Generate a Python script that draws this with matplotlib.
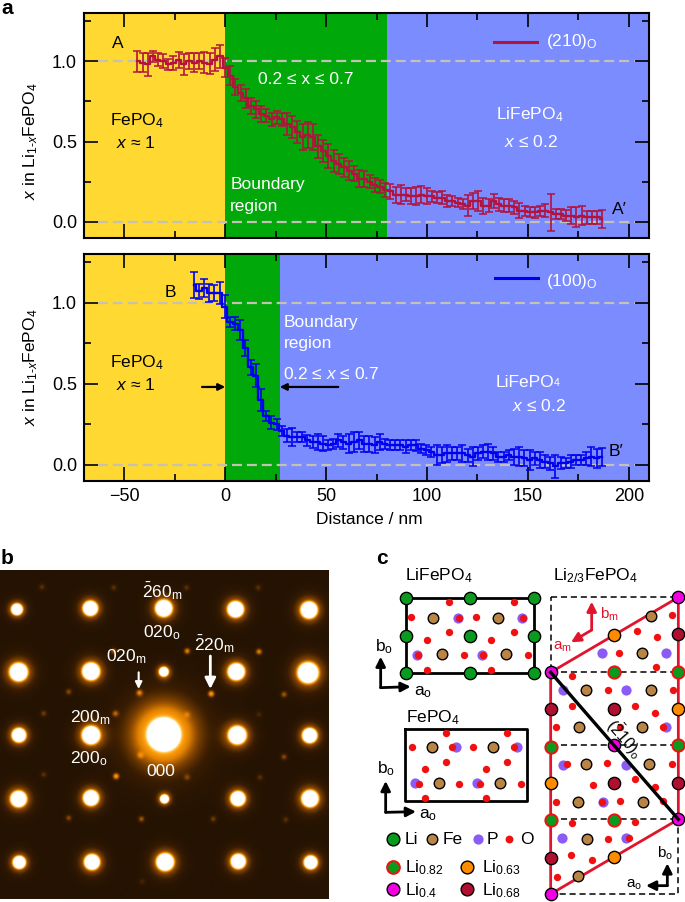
import numpy as np
import matplotlib
matplotlib.use("Agg")
import matplotlib.pyplot as plt
from matplotlib.colors import LinearSegmentedColormap

plt.rcParams["font.family"] = ["Liberation Sans", "DejaVu Sans"]
plt.rcParams["mathtext.fontset"] = "custom"
plt.rcParams["mathtext.rm"] = "Liberation Sans"
plt.rcParams["mathtext.it"] = "Liberation Sans:italic"
plt.rcParams["mathtext.bf"] = "Liberation Sans:bold"
plt.rcParams["mathtext.default"] = "rm"

W, H = 685, 902
FS = 12.5

# panel a, line scan A-A'
dist_a = [-43.6, -41.0, -38.5, -35.9, -33.4, -30.8, -28.2, -25.7, -23.1, -20.6,
          -18.0, -15.4, -12.9, -10.3, -7.8, -5.2, -2.6, -0.1, 2.5, 5.0,
          7.6, 10.2, 12.7, 15.3, 17.8, 20.4, 23.0, 25.5, 28.1, 30.6,
          33.2, 35.8, 38.3, 40.9, 43.4, 46.0, 48.6, 51.1, 53.7, 56.2,
          58.8, 61.4, 63.9, 66.5, 69.0, 71.6, 74.2, 76.7, 79.3, 81.8,
          84.4, 87.0, 89.5, 92.1, 94.6, 97.2, 99.8, 102.3, 104.9, 107.4,
          110.0, 112.6, 115.1, 117.7, 120.2, 122.8, 125.4, 127.9, 130.5, 133.0,
          135.6, 138.2, 140.7, 143.3, 145.8, 148.4, 151.0, 153.5, 156.1, 158.6,
          161.2, 163.8, 166.3, 168.9, 171.4, 174.0, 176.6, 179.1, 181.7, 184.2, 186.8]
x_a = [1.00, 0.99, 0.98, 1.03, 1.01, 1.00, 0.98, 0.99, 1.01, 0.98,
       1.00, 0.99, 1.00, 0.99, 0.985, 1.01, 1.03, 0.96, 0.91, 0.84,
       0.80, 0.77, 0.72, 0.70, 0.67, 0.66, 0.64, 0.65, 0.64, 0.61,
       0.59, 0.56, 0.53, 0.54, 0.53, 0.47, 0.44, 0.41, 0.38, 0.36,
       0.34, 0.32, 0.30, 0.27, 0.27, 0.25, 0.23, 0.22, 0.20, 0.19,
       0.17, 0.17, 0.17, 0.16, 0.16, 0.17, 0.16, 0.16, 0.15, 0.15,
       0.13, 0.13, 0.12, 0.11, 0.10, 0.13, 0.13, 0.10, 0.10, 0.13,
       0.11, 0.10, 0.10, 0.09, 0.07, 0.07, 0.06, 0.06, 0.07, 0.07,
       0.06, 0.05, 0.05, 0.04, 0.04, 0.03, 0.04, 0.03, 0.03, 0.03, 0.02]
err_a = [.065, .06, .07, .035, .04, .045, .035, .045, .05, .065,
         .05, .06, .05, .065, .065, .07, .07, .06, .06, .05,
         .05, .06, .05, .055, .05, .04, .04, .04, .04, .07,
         .07, .07, .08, .08, .08, .07, .07, .075, .07, .06,
         .06, .06, .045, .055, .05, .04, .045, .04, .045, .045,
         .05, .06, .04, .05, .055, .055, .05, .035, .035, .04,
         .04, .03, .03, .03, .065, .05, .06, .05, .04, .045,
         .04, .04, .04, .04, .045, .03, .03, .035, .03, .04,
         .115, .03, .03, .035, .05, .06, .06, .04, .04, .04, .055]

# panel a, line scan B-B'
dist_b = [-15.6, -13.0, -10.5, -7.9, -5.4, -2.8, -0.2, 2.3, 4.9, 7.4,
          10.0, 12.6, 15.1, 17.7, 20.2, 22.8, 25.4, 27.9, 30.5, 33.0,
          35.6, 38.2, 40.7, 43.3, 45.8, 48.4, 51.0, 53.5, 56.1, 58.6,
          61.2, 63.8, 66.3, 68.9, 71.4, 74.0, 76.6, 79.1, 81.7, 84.2,
          86.8, 89.4, 91.9, 94.5, 97.0, 99.6, 102.2, 104.7, 107.3, 109.8,
          112.4, 115.0, 117.5, 120.1, 122.6, 125.2, 127.8, 130.3, 132.9, 135.4,
          138.0, 140.6, 143.1, 145.7, 148.2, 150.8, 153.4, 155.9, 158.5, 161.0,
          163.6, 166.2, 168.7, 171.3, 173.8, 176.4, 179.0, 181.5, 184.1, 186.7]
x_b = [1.11, 1.07, 1.09, 1.06, 1.06, 1.06, 0.975, 0.88, 0.87, 0.83,
       0.72, 0.60, 0.55, 0.40, 0.30, 0.26, 0.25, 0.21, 0.18, 0.17,
       0.17, 0.17, 0.15, 0.14, 0.14, 0.13, 0.12, 0.13, 0.15, 0.14,
       0.13, 0.14, 0.15, 0.13, 0.13, 0.12, 0.14, 0.13, 0.12, 0.12,
       0.12, 0.11, 0.12, 0.12, 0.10, 0.09, 0.08, 0.06, 0.06, 0.07,
       0.07, 0.07, 0.07, 0.06, 0.05, 0.07, 0.08, 0.08, 0.07, 0.05,
       0.05, 0.06, 0.05, 0.05, 0.04, 0.03, 0.04, 0.03, 0.02, 0.01,
       -0.01, 0.01, 0.01, 0.02, 0.03, 0.03, 0.04, 0.05, 0.04, 0.05]
err_b = [.08, .045, .055, .055, .05, .07, .07, .03, .04, .06,
         .05, .045, .07, .07, .03, .04, .035, .03, .04, .055,
         .03, .03, .035, .035, .05, .045, .03, .03, .04, .04,
         .06, .06, .05, .05, .05, .05, .05, .03, .03, .03,
         .03, .04, .03, .035, .03, .03, .03, .06, .05, .05,
         .04, .04, .05, .04, .06, .04, .04, .05, .04, .03,
         .03, .03, .05, .06, .05, .06, .04, .05, .04, .04,
         .07, .035, .03, .04, .03, .03, .04, .06, .06, .055]

bound_a = 80
bound_b = 27

YELLOW = "#ffd832"
GREEN = "#00a80a"
BLUE = "#7b8cff"
GREY = "#c4c2b4"
CRIMSON = "#b3123c"
LINE_BLUE = "#0000f0"

# panel b, spots in crop pixels: x, y, size
strong_x = [50, 270, 490, 705, 925, 55, 272, 490, 707, 922, 56, 272, 490, 710, 927,
            55, 272, 492, 712, 928, 57, 275, 494, 713, 930]
strong_y = [195, 192, 192, 195, 197, 383, 381, 382, 382, 385, 572, 572, 570, 572, 573,
            763, 760, 763, 762, 762, 953, 952, 952, 950, 953]
strong_r = [17, 22, 25, 24, 25, 27, 26, 14, 25, 31, 21, 27, 47, 27, 22,
            24, 23, 13, 22, 25, 19, 23, 26, 22, 20]
weak_x = [560, 775, 417, 632, 850, 205, 345, 130, 347, 130, 420, 850, 205, 423, 638,
          855, 560, 778, 340, 125, 558, 773, 560, 775, 340, 425]
weak_y = [320, 322, 445, 448, 450, 442, 507, 507, 695, 690, 632, 637, 820, 823, 823,
          825, 698, 698, 130, 128, 130, 130, 510, 510, 320, 1010]
weak_a = [.5, .5, .45, .6, .35, .3, .35, .25, .6, .2, .25, .3, .3, .35, .25,
          .2, .2, .2, .2, .2, .2, .2, .15, .15, .35, .15]

# panel c, atoms in crop pixels
li_x = [107, 300, 492, 107, 300, 492, 107, 300, 492]
li_y = [160, 160, 160, 272, 272, 272, 385, 385, 385]
fe1_x = [190, 383, 215, 408]
fe1_y = [218, 218, 328, 328]
p1_x = [263, 456, 140, 336]
p1_y = [218, 218, 330, 330]
o1_x = [238, 431, 124, 318, 238, 431, 170, 363, 145, 282, 338, 475, 170, 363, 266, 458]
o1_y = [172, 172, 217, 217, 262, 262, 285, 285, 330, 330, 330, 330, 375, 375, 218, 218]
fe2_x = [187, 370, 206, 390]
fe2_y = [607, 607, 715, 715]
p2_x = [257, 440, 135, 322]
p2_y = [607, 607, 715, 715]
o2_x = [228, 411, 125, 246, 308, 432, 228, 411, 165, 349, 147, 268, 330, 452, 165, 349]
o2_y = [563, 563, 607, 607, 607, 607, 652, 652, 671, 671, 716, 716, 716, 716, 760, 760]
fe3_x = [842, 815, 648, 842, 627, 815, 648, 838, 625, 818, 650, 625]
fe3_y = [212, 325, 436, 436, 547, 547, 657, 657, 770, 770, 882, 993]
p3_x = [695, 888, 578, 768, 888, 578, 768, 698, 575, 768]
p3_y = [323, 323, 436, 436, 545, 660, 660, 770, 880, 880]
o3_x = [802, 905, 862, 748, 858, 605, 715, 908, 605, 795, 558, 855, 750, 880, 590,
        712, 905, 670, 795, 855, 558, 695, 750, 880, 605, 795, 715, 778, 602, 665, 562]
o3_y = [257, 210, 275, 325, 367, 392, 436, 436, 482, 483, 547, 503, 547, 547, 657,
        655, 657, 720, 703, 725, 770, 770, 768, 768, 835, 830, 882, 878, 930, 945, 995]
li04_x = [925, 542, 733, 925, 542]
li04_y = [157, 382, 600, 823, 1047]
li068_x = [925, 733, 542, 733, 925, 542]
li068_y = [268, 492, 492, 715, 715, 938]
li063_x = [733, 925, 542, 733]
li063_y = [270, 492, 715, 937]
li082_x = [733, 925, 542, 925, 542, 733]
li082_y = [382, 382, 605, 600, 825, 825]

C_LI = "#0a9a1e"
C_FE = "#b98544"
C_P = "#8a5cf5"
C_O = "#f01010"
C_LI04 = "#f000e0"
C_LI068 = "#b01030"
C_LI063 = "#ff8c00"
C_RED = "#e0152d"


def px_axes(fig, left, top, right, bottom):
    return fig.add_axes([left / W, 1 - bottom / H, (right - left) / W, (bottom - top) / H])


def profile(ax, dist, x, err, color, bound):
    ax.axvspan(-70, 0, color=YELLOW, lw=0, zorder=0)
    ax.axvspan(0, bound, color=GREEN, lw=0, zorder=0)
    ax.axvspan(bound, 210, color=BLUE, lw=0, zorder=0)
    ax.hlines([0, 1], -63, 203, color=GREY, lw=1.6, linestyles=(0, (4.5, 2.2)), zorder=1)
    ax.plot(dist, x, drawstyle="steps-mid", color=color, lw=1.7, zorder=3)
    ax.errorbar(dist, x, yerr=err, fmt="none", ecolor=color, elinewidth=1.2,
                capsize=2.6, capthick=1.1, zorder=3)
    ax.set_xlim(-70, 210)
    ax.set_ylim(-0.1, 1.3)
    ax.set_xticks(np.arange(-50, 201, 50))
    ax.set_xticks(np.arange(-25, 200, 50), minor=True)
    ax.set_yticks([0, 0.5, 1.0])
    ax.set_yticks([0.25, 0.75, 1.25], minor=True)
    ax.tick_params(which="major", direction="in", top=True, right=True, length=10, width=1.2,
                   labelsize=FS + 0.5, pad=5)
    ax.tick_params(which="minor", direction="in", top=True, right=True, length=5, width=1.2)
    for s in ax.spines.values():
        s.set_linewidth(1.5)
    ax.set_ylabel(r"$\mathit{x}$ in Li$_{1\text{-}\mathit{x}}$FePO$_4$", fontsize=FS)
    ax.set_axisbelow(False)


fig = plt.figure(figsize=(W / 100, H / 100), dpi=100)

ax_a = px_axes(fig, 84, 13, 649, 238)
profile(ax_a, dist_a, x_a, err_a, CRIMSON, bound_a)
ax_a.tick_params(labelbottom=False)
ax_a.yaxis.set_label_coords(-0.078, 0.43)
ax_a.text(-56, 1.11, "A", fontsize=FS, ha="left", va="center")
ax_a.text(-57, 0.63, "FePO$_4$", fontsize=FS, va="center")
ax_a.text(-54, 0.49, r"$\mathit{x}$ ≈ 1", fontsize=FS, va="center")
ax_a.text(16, 0.885, r"0.2 ≤ x ≤ 0.7", color="w", fontsize=FS, va="center")
ax_a.text(2.5, 0.23, "Boundary", color="w", fontsize=FS, va="center")
ax_a.text(2.5, 0.095, "region", color="w", fontsize=FS, va="center")
ax_a.text(134, 0.67, "LiFePO$_4$", color="w", fontsize=FS, va="center")
ax_a.text(138, 0.5, r"$\mathit{x}$ ≤ 0.2", color="w", fontsize=FS, va="center")
ax_a.plot([133, 154.6], [1.117, 1.117], color=CRIMSON, lw=2.2)
ax_a.text(159, 1.12, "(210)$_{\\mathrm{O}}$", color="w", fontsize=FS, va="center")
ax_a.text(191.5, 0.08, "A′", fontsize=FS, va="center")

ax_b = px_axes(fig, 84, 254, 649, 481)
profile(ax_b, dist_b, x_b, err_b, LINE_BLUE, bound_b)
ax_b.yaxis.set_label_coords(-0.078, 0.5)
ax_b.set_xticklabels(["−50", "0", "50", "100", "150", "200"])
ax_b.set_xlabel("Distance / nm", fontsize=FS)
ax_b.xaxis.set_label_coords(0.505, -0.135)
ax_b.text(-30, 1.065, "B", fontsize=FS, va="center")
ax_b.text(-57, 0.63, "FePO$_4$", fontsize=FS, va="center")
ax_b.text(-54, 0.49, r"$\mathit{x}$ ≈ 1", fontsize=FS, va="center")
ax_b.annotate("", xy=(0, 0.48), xytext=(-11.5, 0.48),
              arrowprops=dict(arrowstyle="-|>", color="k", lw=1.6, shrinkA=0, shrinkB=0))
ax_b.annotate("", xy=(27, 0.48), xytext=(56, 0.48),
              arrowprops=dict(arrowstyle="-|>", color="k", lw=1.6, shrinkA=0, shrinkB=0))
ax_b.text(29, 0.88, "Boundary", color="w", fontsize=FS, va="center")
ax_b.text(29, 0.75, "region", color="w", fontsize=FS, va="center")
ax_b.text(28.5, 0.56, r"0.2 ≤ $\mathit{x}$ ≤ 0.7", color="w", fontsize=FS, va="center")
ax_b.text(134, 0.51, "LiFePO", color="w", fontsize=FS, va="center")
ax_b.text(163, 0.505, "4", color="w", fontsize=7.5, va="center")
ax_b.text(142, 0.365, r"$\mathit{x}$ ≤ 0.2", color="w", fontsize=FS, va="center")
ax_b.plot([133.7, 155], [1.15, 1.15], color=LINE_BLUE, lw=2.2)
ax_b.text(159, 1.13, "(100)$_{\\mathrm{O}}$", color="w", fontsize=FS, va="center")
ax_b.text(190, 0.08, "B′", fontsize=FS, va="center")

# panel b, drawn in crop pixels of the 340x357 region
ax_d = px_axes(fig, 0, 545, 340, 902)
ax_d.axis("off")
diff_cmap = LinearSegmentedColormap.from_list(
    "diff", ["#170c02", "#3a1d02", "#8a4800", "#e08000", "#ffa010", "#ffd060", "#ffffff"])
gx, gy = np.meshgrid(np.arange(0, 985, 1.5), np.arange(78, 1063, 1.5))
level = np.zeros_like(gx) + 0.07
for sx, sy, sr in zip(strong_x, strong_y, strong_r):
    d = np.hypot(gx - sx, gy - sy) / sr
    level += 1.2 * np.exp(-d ** 6) + 0.55 * np.exp(-(d / 1.5) ** 2)
    if sr > 40:
        level += 0.42 * np.exp(-(d / 2.4) ** 2)
for wx, wy, wa in zip(weak_x, weak_y, weak_a):
    level += 0.9 * wa * np.exp(-(np.hypot(gx - wx, gy - wy) / 9) ** 2)
ax_d.imshow(np.clip(level, 0, 1), cmap=diff_cmap, vmin=0, vmax=1, origin="upper",
            extent=(0, 985, 1063, 78), interpolation="bilinear", aspect="auto")
ax_d.set_xlim(0, 1020)
ax_d.set_ylim(1071, 0)
for tx, ty, lab in [(426, 137, r"$\bar{2}$60$_{\mathrm{m}}$"),
                    (429, 263, "020$_{\\mathrm{o}}$"),
                    (582, 298, r"$\bar{2}$20$_{\mathrm{m}}$"),
                    (318, 336, "020$_{\\mathrm{m}}$"),
                    (210, 517, "200$_{\\mathrm{m}}$"),
                    (210, 642, "200$_{\\mathrm{o}}$"),
                    (440, 678, "000")]:
    ax_d.text(tx, ty, lab, color="w", fontsize=FS, va="center")
ax_d.annotate("", xy=(416, 432), xytext=(416, 382),
              arrowprops=dict(arrowstyle="-|>", color="w", lw=1.5, shrinkA=0, shrinkB=0))
ax_d.annotate("", xy=(631, 432), xytext=(631, 333),
              arrowprops=dict(arrowstyle="-|>", color="w", lw=2, mutation_scale=16, shrinkA=0, shrinkB=0))

# panel c, drawn in crop pixels of the 315x357 region
ax_c = px_axes(fig, 370, 545, 685, 902)
ax_c.set_xlim(0, 945)
ax_c.set_ylim(1071, 0)
ax_c.axis("off")


def atoms(xs, ys, color, edge="k", s=78, lw=1.0, z=5):
    ax_c.scatter(xs, ys, s=s, c=color, edgecolors=edge, linewidths=lw, zorder=z, clip_on=False)


def purple(xs, ys):
    ax_c.scatter(xs, ys, s=54, c=C_P, linewidths=0, zorder=3)


def red(xs, ys):
    ax_c.scatter(xs, ys, s=28, c=C_O, linewidths=0, zorder=4)


def axes_arrow(x0, y0, x1, y1, color="k"):
    ax_c.annotate("", xy=(x1, y1), xytext=(x0, y0),
                  arrowprops=dict(arrowstyle="-|>", color=color, lw=2, shrinkA=0, shrinkB=0,
                                  mutation_scale=14))


# unit cells
ax_c.plot([107, 492, 492, 107, 107], [160, 160, 385, 385, 160], color="k", lw=2, zorder=2)
ax_c.plot([105, 472, 472, 105, 105], [552, 552, 768, 768, 552], color="k", lw=2, zorder=2)
ax_c.plot([542, 925, 925, 542, 542], [157, 157, 1047, 1047, 157], color="k", lw=1.1,
          linestyle=(0, (4, 2.5)), zorder=2)
for hy in [382, 600, 823]:
    ax_c.plot([542, 925], [hy, hy], color="k", lw=1.1, linestyle=(0, (4, 2.5)), zorder=2)
ax_c.plot([542, 925, 925, 542, 542], [382, 157, 823, 1047, 382], color=C_RED, lw=2, zorder=2)
ax_c.plot([542, 925], [382, 823], color="k", lw=2.4, zorder=6)

atoms(li_x, li_y, C_LI)
atoms(fe1_x, fe1_y, C_FE, s=58)
purple(p1_x, p1_y)
red(o1_x, o1_y)
atoms(fe2_x, fe2_y, C_FE, s=58)
purple(p2_x, p2_y)
red(o2_x, o2_y)
atoms(fe3_x, fe3_y, C_FE, s=58)
purple(p3_x, p3_y)
red(o3_x, o3_y)
atoms(li04_x, li04_y, C_LI04)
atoms(li068_x, li068_y, C_LI068)
atoms(li063_x, li063_y, C_LI063)
atoms(li082_x, li082_y, C_LI, edge="#f01010", lw=1.4)

ax_c.text(105, 92, "LiFePO$_4$", fontsize=FS, va="center")
ax_c.text(548, 92, "Li$_{2/3}$FePO$_4$", fontsize=FS, va="center")
ax_c.text(107, 517, "FePO$_4$", fontsize=FS, va="center")

axes_arrow(32, 428, 32, 335)
axes_arrow(32, 428, 122, 425)
ax_c.text(16, 305, "b$_{\\mathrm{o}}$", fontsize=FS, va="center")
ax_c.text(132, 440, "a$_{\\mathrm{o}}$", fontsize=FS, va="center")
axes_arrow(47, 802, 47, 708)
axes_arrow(47, 802, 138, 800)
ax_c.text(22, 670, "b$_{\\mathrm{o}}$", fontsize=FS, va="center")
ax_c.text(147, 810, "a$_{\\mathrm{o}}$", fontsize=FS, va="center")
axes_arrow(892, 1022, 892, 955)
axes_arrow(892, 1022, 828, 1022)
ax_c.text(860, 925, "b$_{\\mathrm{o}}$", fontsize=11, va="center")
ax_c.text(768, 1020, "a$_{\\mathrm{o}}$", fontsize=11, va="center")
axes_arrow(665, 255, 665, 170, color=C_RED)
axes_arrow(665, 255, 603, 292, color=C_RED)
ax_c.text(690, 208, "b$_{\\mathrm{m}}$", color=C_RED, fontsize=11, va="center")
ax_c.text(548, 305, "a$_{\\mathrm{m}}$", color=C_RED, fontsize=11, va="center")
ax_c.text(762, 580, r"($\bar{2}$10)$_{\mathrm{o}}$", fontsize=11.5, rotation=-49,
          rotation_mode="anchor", ha="center", va="center", zorder=7)

# key of the atoms
atoms([68], [882], C_LI, s=84)
atoms([187], [882], C_FE, s=58)
purple([325], [882])
ax_c.scatter([418], [882], s=32, c=C_O, linewidths=0)
ax_c.text(105, 884, "Li", fontsize=FS, va="center")
ax_c.text(218, 884, "Fe", fontsize=FS, va="center")
ax_c.text(350, 884, "P", fontsize=FS, va="center")
ax_c.text(450, 884, "O", fontsize=FS, va="center")
atoms([68], [965], C_LI, edge="#f01010", s=84, lw=1.4)
atoms([292], [965], C_LI063, s=84)
atoms([68], [1033], C_LI04, s=84)
atoms([292], [1033], C_LI068, s=84)
ax_c.text(105, 967, "Li$_{0.82}$", fontsize=FS, va="center")
ax_c.text(335, 967, "Li$_{0.63}$", fontsize=FS, va="center")
ax_c.text(105, 1037, "Li$_{0.4}$", fontsize=FS, va="center")
ax_c.text(335, 1037, "Li$_{0.68}$", fontsize=FS, va="center")

# panel letters
fig.text(1 / W, 1 - 8 / H, "a", fontsize=15, fontweight="bold", va="center")
fig.text(1 / W, 1 - 558 / H, "b", fontsize=15, fontweight="bold", va="center")
fig.text(376 / W, 1 - 558 / H, "c", fontsize=15, fontweight="bold", va="center")

fig.savefig("out.png", dpi=100)
